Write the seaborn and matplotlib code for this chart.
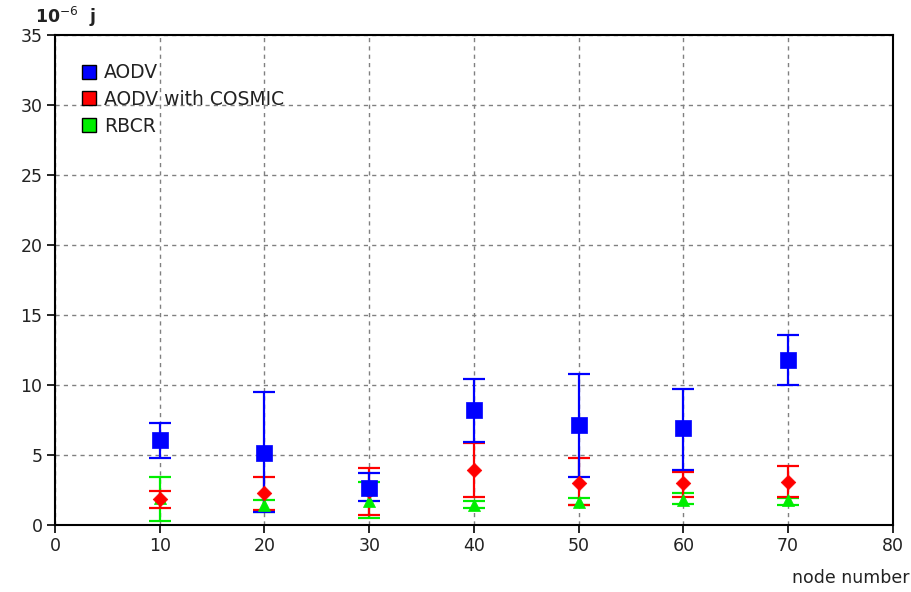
import numpy as np
import pandas as pd
import matplotlib
matplotlib.use("Agg")
import matplotlib.pyplot as plt
import seaborn as sns
from matplotlib.lines import Line2D

nodes = [10, 20, 30, 40, 50, 60, 70]
series_names = ["AODV", "AODV with COSMIC", "RBCR"]

aodv_mean = [6.1, 5.15, 2.65, 8.2, 7.15, 6.9, 11.75]
aodv_low = [4.8, 0.9, 1.7, 5.9, 3.4, 3.9, 10.0]
aodv_high = [7.3, 9.5, 3.7, 10.4, 10.8, 9.7, 13.6]

cosmic_mean = [1.85, 2.3, 2.4, 3.95, 3.0, 3.0, 3.1]
cosmic_low = [1.2, 1.1, 0.7, 2.0, 1.4, 2.0, 2.0]
cosmic_high = [2.4, 3.4, 4.05, 5.85, 4.75, 3.8, 4.2]

rbcr_mean = [1.9, 1.4, 1.7, 1.45, 1.65, 1.8, 1.75]
rbcr_low = [0.3, 0.95, 0.5, 1.2, 1.4, 1.5, 1.45]
rbcr_high = [3.4, 1.8, 3.1, 1.7, 1.9, 2.3, 1.95]

x_ticks = [0, 10, 20, 30, 40, 50, 60, 70, 80]
y_ticks = [0, 5, 10, 15, 20, 25, 30, 35]

colors = ["#0000ff", "#ff0000", "#00ee00"]
markers = ["s", "D", "^"]
msizes = [120, 55, 75]

rows = []
for name, m, lo, hi in zip(series_names,
                           [aodv_mean, cosmic_mean, rbcr_mean],
                           [aodv_low, cosmic_low, rbcr_low],
                           [aodv_high, cosmic_high, rbcr_high]):
    for n, v, l, h in zip(nodes, m, lo, hi):
        rows.append({"nodes": n, "value": v, "low": l, "high": h, "series": name})
df = pd.DataFrame(rows)

sns.set_style("white")
plt.rcParams["font.family"] = ["DejaVu Sans"]

fig = plt.figure(figsize=(9.12, 5.92), dpi=100)
ax = fig.add_axes([0.0603, 0.1132, 0.9187, 0.8277])

# draw in reverse so AODV is on top
for name, c, mk, ms in list(zip(series_names, colors, markers, msizes))[::-1]:
    d = df[df.series == name]
    yerr = np.vstack([d.value - d.low, d.high - d.value])
    ax.errorbar(d.nodes, d.value, yerr=yerr, fmt="none", ecolor=c,
                elinewidth=1.6, capsize=8, capthick=1.6, zorder=3)
    sns.scatterplot(data=d, x="nodes", y="value", color=c, marker=mk, s=ms,
                    edgecolor=c, linewidth=0.5, ax=ax, zorder=4, legend=False)

ax.set_xlim(0, 80)
ax.set_ylim(0, 35)
ax.set_xticks(x_ticks)
ax.set_yticks(y_ticks)
ax.tick_params(axis="both", labelsize=12.5, direction="out", length=6,
               width=1.2, color="black", labelcolor="#222222", left=True, bottom=True,
               pad=3)
ax.grid(True, linestyle=(0, (3, 3)), color="#808080", linewidth=1.0)
ax.set_axisbelow(True)
for s in ax.spines.values():
    s.set_color("black")
    s.set_linewidth(1.5)
ax.set_xlabel("")
ax.set_ylabel("")

handles = [Line2D([], [], linestyle="none", marker="s", markersize=10.5,
                  markerfacecolor=c, markeredgecolor="black", markeredgewidth=1.0)
           for c in colors]
leg = ax.legend(handles, series_names, loc="upper left", bbox_to_anchor=(0.02, 0.958),
                frameon=False, fontsize=13.5, handletextpad=0.3, labelspacing=0.42,
                handlelength=1.0, borderaxespad=0.0)
for t in leg.get_texts():
    t.set_color("#222222")

fig.text(0.038, 0.972, "10$^{-6}$  j", fontsize=12.5, fontweight="bold",
         color="#222222", va="center", ha="left")
fig.text(0.997, 0.023, "node number", fontsize=12.5, color="#222222",
         va="center", ha="right")

fig.savefig("out.png", dpi=100)
